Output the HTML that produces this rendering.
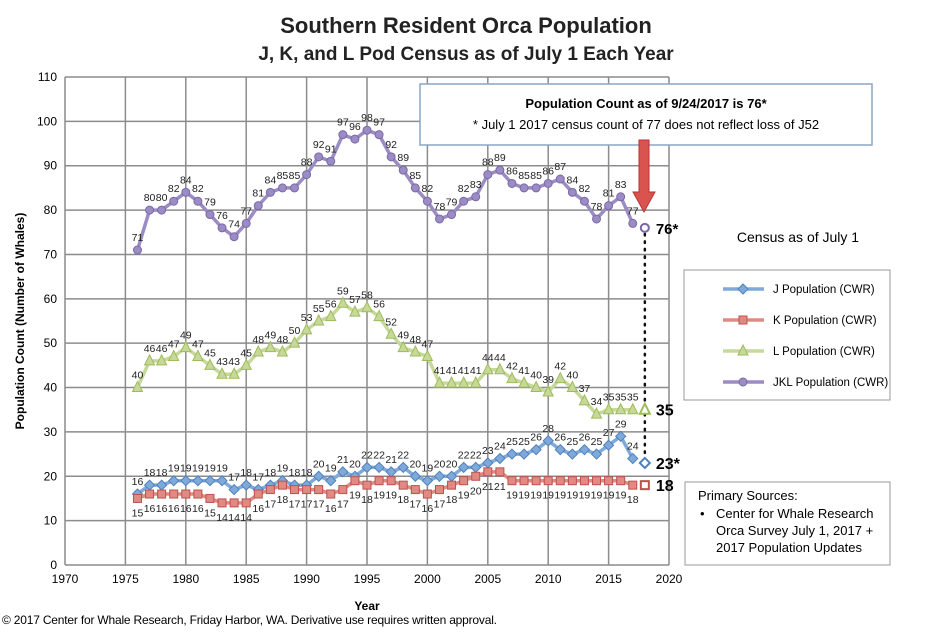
<!DOCTYPE html>
<html><head><meta charset="utf-8"><style>
body{margin:0;background:#fff;font-family:"Liberation Sans",sans-serif}
svg text{font-family:"Liberation Sans",sans-serif}
</style></head><body>
<svg id="chart" width="929" height="628" xmlns="http://www.w3.org/2000/svg">
<text x="466" y="33" text-anchor="middle" font-size="22" font-weight="bold" fill="#222">Southern Resident Orca Population</text>
<text x="466" y="60" text-anchor="middle" font-size="19" font-weight="bold" fill="#222">J, K, and L Pod Census as of July 1 Each Year</text>
<g id="grid"></g><g id="series"></g><g id="extra"></g>
<text x="367" y="610" text-anchor="middle" font-size="12" font-weight="bold">Year</text>
<text transform="translate(24,321) rotate(-90)" text-anchor="middle" font-size="12" font-weight="bold">Population Count (Number of Whales)</text>
<text x="2" y="624" font-size="12" textLength="495">© 2017 Center for Whale Research, Friday Harbor, WA.  Derivative use requires written approval.</text>
<g>
<rect x="420" y="84" width="452" height="61" fill="#fff" stroke="#8aa6c5" stroke-width="1.5"/>
<text x="646" y="108" text-anchor="middle" font-size="13" font-weight="bold">Population Count as of 9/24/2017 is 76*</text>
<text x="646" y="129" text-anchor="middle" font-size="13">* July 1 2017 census count of 77 does not reflect loss of J52</text>
</g>
<path d="M639 140 L649 140 L649 192 L655 192 L644 212 L633 192 L639 192 Z" fill="#d9534f" stroke="#b33" stroke-width="1"/>
<text x="798" y="242" text-anchor="middle" font-size="14">Census as of July 1</text>
<g>
<rect x="684" y="270" width="206" height="130" fill="#fff" stroke="#999"/>
<g id="legend"></g>
</g>
<g>
<rect x="685" y="482" width="205" height="83" fill="#fff" stroke="#999"/>
<text x="698" y="500" font-size="13">Primary Sources:</text>
<text x="700" y="518" font-size="13">•</text>
<text x="716" y="518" font-size="13">Center for Whale Research</text>
<text x="716" y="535" font-size="13">Orca Survey July 1, 2017 +</text>
<text x="716" y="552" font-size="13">2017 Population Updates</text>
</g>
</svg>
<script>
const years=[1976,1977,1978,1979,1980,1981,1982,1983,1984,1985,1986,1987,1988,1989,1990,1991,1992,1993,1994,1995,1996,1997,1998,1999,2000,2001,2002,2003,2004,2005,2006,2007,2008,2009,2010,2011,2012,2013,2014,2015,2016,2017];
const jPop=[16,18,18,19,19,19,19,19,17,18,17,18,19,18,18,20,19,21,20,22,22,21,22,20,19,20,20,22,22,23,24,25,25,26,28,26,25,26,25,27,29,24];
const kPop=[15,16,16,16,16,16,15,14,14,14,16,17,18,17,17,17,16,17,19,18,19,19,18,17,16,17,18,19,20,21,21,19,19,19,19,19,19,19,19,19,19,18];
const lPop=[40,46,46,47,49,47,45,43,43,45,48,49,48,50,53,55,56,59,57,58,56,52,49,48,47,41,41,41,41,44,44,42,41,40,39,42,40,37,34,35,35,35];
const jklPop=[71,80,80,82,84,82,79,76,74,77,81,84,85,85,88,92,91,97,96,98,97,92,89,85,82,78,79,82,83,88,89,86,85,85,86,87,84,82,78,81,83,77];
const finalYear=2018;
const finalVals=[23,18,35,76];
const finalLabels=["23*","18","35","76*"];
const xTicks=[1970,1975,1980,1985,1990,1995,2000,2005,2010,2015,2020];
const yTicks=[0,10,20,30,40,50,60,70,80,90,100,110];
const X0=65,X1=669,Y0=565,Y1=77;
const x=v=>X0+(v-1970)/(2020-1970)*(X1-X0);
const y=v=>Y0-(v/110)*(Y0-Y1);
const NS="http://www.w3.org/2000/svg";
function mk(tag,attrs,parent,txt){const e=document.createElementNS(NS,tag);for(const k in attrs)e.setAttribute(k,attrs[k]);if(txt!==undefined)e.textContent=txt;parent.appendChild(e);return e;}
const grid=document.getElementById('grid');
yTicks.forEach(t=>{
 const l=mk('line',{x1:X0,x2:X1,y1:y(t),y2:y(t),stroke:'#8c8c8c','stroke-width':1.5},grid);
 
 
 const tx=mk('text',{x:X0-8,y:y(t)+4,'text-anchor':'end','font-size':12},grid,t);
 
 
});
xTicks.forEach(t=>{
 const l=mk('line',{x1:x(t),x2:x(t),y1:Y1,y2:Y0,stroke:'#8c8c8c','stroke-width':1.5},grid);
 
 
 const tx=mk('text',{x:x(t),y:Y0+18,'text-anchor':'middle','font-size':12},grid,t);
 
 
});
const S=document.getElementById('series');
const defs=[
 {name:'jkl',data:jklPop,color:'#9c8cc4',dark:'#7a68a8',m:'circle',below:false},
 {name:'l',data:lPop,color:'#c6d99a',dark:'#9fbb5a',m:'tri',below:false},
 {name:'j',data:jPop,color:'#7fa9d9',dark:'#4f81bd',m:'diamond',below:false},
 {name:'k',data:kPop,color:'#e08a84',dark:'#c0504d',m:'square',below:true}
];
function marker(type,cx,cy,fill,stroke,parent,open){
 const f=open?'#fff':fill;
 if(type==='circle')return mk('circle',{cx,cy,r:4,fill:f,stroke,'stroke-width':open?2:1},parent);
 if(type==='square')return mk('rect',{x:cx-4,y:cy-4,width:8,height:8,fill:f,stroke,'stroke-width':open?2:1},parent);
 if(type==='diamond')return mk('path',{d:`M${cx} ${cy-5}L${cx+5} ${cy}L${cx} ${cy+5}L${cx-5} ${cy}Z`,fill:f,stroke,'stroke-width':open?2:1},parent);
 return mk('path',{d:`M${cx} ${cy-6}L${cx+5} ${cy+4}L${cx-5} ${cy+4}Z`,fill:f,stroke,'stroke-width':open?2:1},parent);
}
defs.forEach((d,si)=>{
 const g=mk('g',{},S);
 
 
 const pts=d.data.map((v,i)=>x(years[i])+','+y(v)).join(' ');
 const pl=mk('polyline',{points:pts,fill:'none',stroke:d.color,'stroke-width':3.5},g);
 
 
 d.data.forEach((v,i)=>{
  const mm=marker(d.m,x(years[i]),y(v),d.color,d.dark,g,false);
  
  
  const t=mk('text',{x:x(years[i]),y:d.below?y(v)+18:y(v)-9,'text-anchor':'middle','font-size':10.5,fill:'#222'},g,v);
  
  
 });
});
const E=document.getElementById('extra');
const dl=mk('line',{x1:x(finalYear),x2:x(finalYear),y1:y(finalVals[3])+6,y2:y(finalVals[0])-6,stroke:'#111','stroke-width':2.5,'stroke-dasharray':'1.5,6','stroke-linecap':'round'},E);


const order=['j','k','l','jkl'];
order.forEach((n,i)=>{
 const d=defs.find(q=>q.name===n);
 const mm=marker(d.m,x(finalYear),y(finalVals[i]),d.color,d.dark,E,true);
 
 
 const t=mk('text',{x:x(finalYear)+11,y:y(finalVals[i])+6,'font-size':i===3?15:16,'font-weight':'bold'},E,finalLabels[i]);
 
 
});
const L=document.getElementById('legend');
const legItems=[['j','J Population (CWR)'],['k','K Population (CWR)'],['l','L Population (CWR)'],['jkl','JKL Population (CWR)']];
legItems.forEach((it,i)=>{
 const d=defs.find(q=>q.name===it[0]);
 const ly=289+i*31;
 const g=mk('g',{},L);
 
 
 mk('line',{x1:723,x2:764,y1:ly,y2:ly,stroke:d.color,'stroke-width':3.5},g);
 marker(d.m,743,ly,d.color,d.dark,g,false);
 mk('text',{x:773,y:ly+4,'font-size':11.5},g,it[1]);
});
</script>
</body></html>
